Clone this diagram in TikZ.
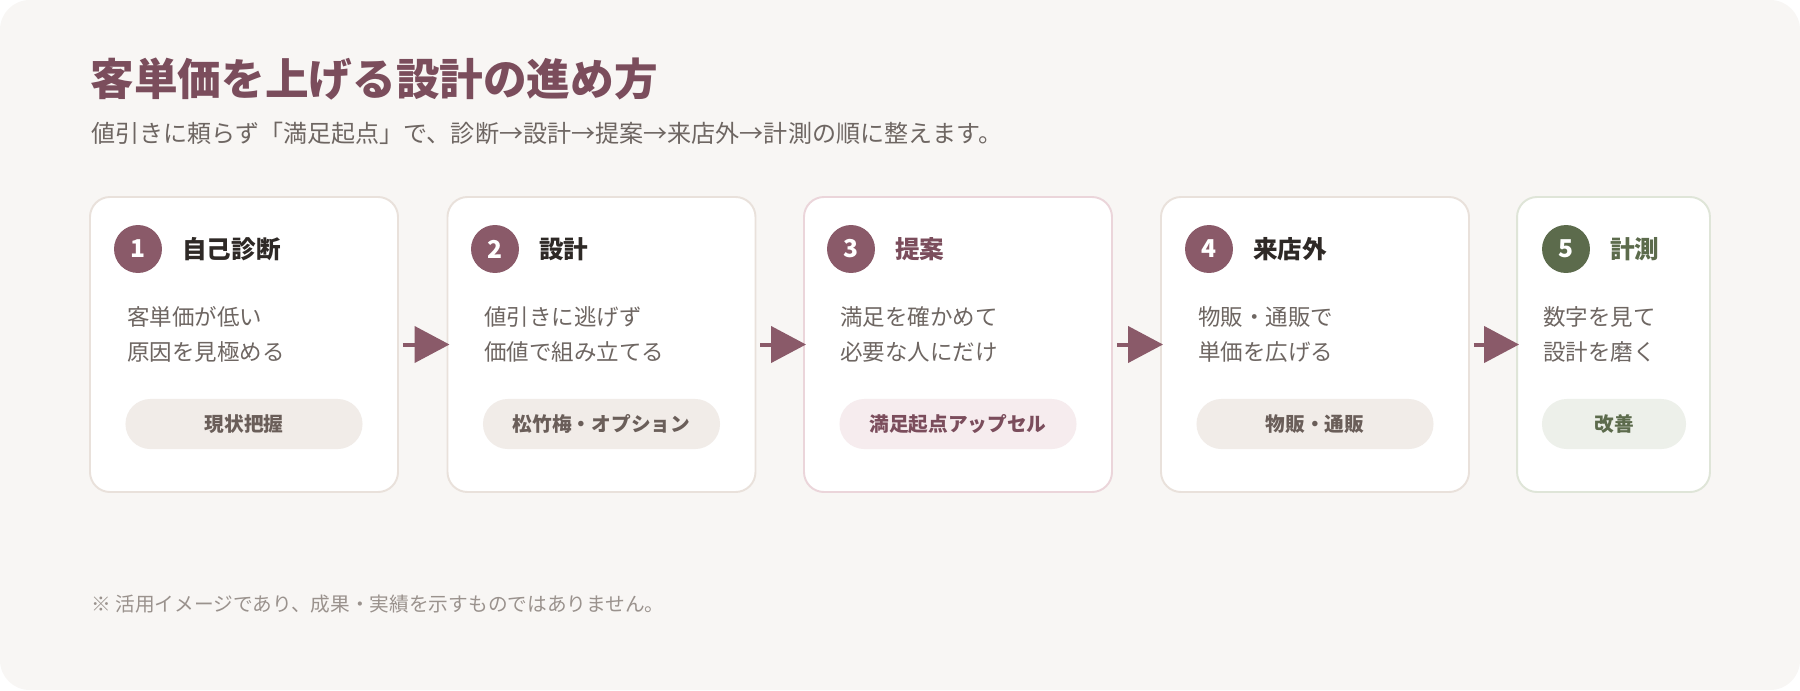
\documentclass[tikz,border=0pt]{standalone}
\usepackage{fontspec}
\setmainfont{Noto Sans CJK JP}
\usetikzlibrary{arrows.meta}
\definecolor{bgc}{HTML}{F8F6F4}
\definecolor{mauve}{HTML}{8A5A69}
\definecolor{mauvet}{HTML}{7B4D5C}
\definecolor{greenc}{HTML}{5C6B4C}
\definecolor{darkt}{HTML}{2E2926}
\definecolor{bodyt}{HTML}{6E6662}
\definecolor{bordb}{HTML}{E9E1DB}
\definecolor{bordp}{HTML}{EBD5DA}
\definecolor{bordg}{HTML}{DFE5D8}
\definecolor{pillb}{HTML}{F1ECE8}
\definecolor{pillp}{HTML}{F6ECEE}
\definecolor{pillg}{HTML}{EDF0EA}
\definecolor{pillt}{HTML}{6A5E59}
\definecolor{notet}{HTML}{9A928D}
\begin{document}
\begin{tikzpicture}[x=0.5691pt,y=-0.5691pt,
  card/.style={draw=bordb, fill=white, line width=1.1pt, rounded corners=11.4pt,
    minimum width=175.3pt, minimum height=167.9pt, inner sep=0pt},
  numc/.style={circle, fill=mauve, minimum size=27.3pt, inner sep=0pt, text=white,
    font=\fontsize{14pt}{16pt}\selectfont\bfseries},
  ctitle/.style={anchor=west, inner sep=0pt, text=darkt, font=\fontsize{14pt}{16pt}\selectfont\bfseries},
  bodyl/.style={anchor=west, inner sep=0pt, text=bodyt, font=\fontsize{12.8pt}{15pt}\selectfont},
  pill/.style={fill=pillb, rounded corners=14.2pt, minimum width=134.9pt, minimum height=28.5pt,
    inner sep=0pt, text=pillt, font=\fontsize{11.2pt}{13pt}\selectfont\bfseries},
  flow/.style={draw=mauve, line width=2.28pt, -{Triangle[length=19.9pt,width=20.5pt]}}
]
\useasboundingbox (0,0) rectangle (1800,690);
\fill[white] (0,0) rectangle (1800,690);
\fill[bgc, rounded corners=17pt] (0,0) rectangle (1800,690);

\node[anchor=west, inner sep=0pt, text=mauvet, font=\fontsize{24.85pt}{28pt}\selectfont\bfseries] (title) at (90,79) {客単価を上げる設計の進め方};
\node[anchor=west, inner sep=0pt, text=bodyt, font=\fontsize{13.7pt}{16pt}\selectfont] (sub) at (91,133) {値引きに頼らず「満足起点」で、診断→設計→提案→来店外→計測の順に整えます。};

% cards
\node[card] (c1) at (244,344.5) {};
\node[card] (c2) at (601.5,344.5) {};
\node[card, draw=bordp] (c3) at (958,344.5) {};
\node[card] (c4) at (1315,344.5) {};
\node[card, draw=bordg, minimum width=109.8pt] (c5) at (1613.5,344.5) {};

% card 1
\node[numc] (n1) at (138,249) {1};
\node[ctitle] (t1) at (182,249) {自己診断};
\node[bodyl] (b1a) at (127,317) {客単価が低い};
\node[bodyl] (b1b) at (127,352) {原因を見極める};
\node[pill] (p1) at (244,424) {現状把握};

% card 2
\node[numc] (n2) at (495,249) {2};
\node[ctitle] (t2) at (539,249) {設計};
\node[bodyl] (b2a) at (484,317) {値引きに逃げず};
\node[bodyl] (b2b) at (484,352) {価値で組み立てる};
\node[pill] (p2) at (601.5,424) {松竹梅・オプション};

% card 3
\node[numc] (n3) at (851,249) {3};
\node[ctitle, text=mauvet] (t3) at (895,249) {提案};
\node[bodyl] (b3a) at (840,317) {満足を確かめて};
\node[bodyl] (b3b) at (840,352) {必要な人にだけ};
\node[pill, fill=pillp, text=mauvet] (p3) at (958,424) {満足起点アップセル};

% card 4
\node[numc] (n4) at (1209,249) {4};
\node[ctitle] (t4) at (1253,249) {来店外};
\node[bodyl] (b4a) at (1198,317) {物販・通販で};
\node[bodyl] (b4b) at (1198,352) {単価を広げる};
\node[pill] (p4) at (1315,424) {物販・通販};

% card 5
\node[numc, fill=greenc] (n5) at (1566,249) {5};
\node[ctitle, text=greenc] (t5) at (1610,249) {計測};
\node[bodyl] (b5a) at (1543,317) {数字を見て};
\node[bodyl] (b5b) at (1543,352) {設計を磨く};
\node[pill, fill=pillg, text=greenc, minimum width=82pt] (p5) at (1614,424) {改善};

% arrows
\draw[flow] ([xshift=2.28pt]c1.east) -- ([xshift=1.71pt]c2.west);
\draw[flow] ([xshift=2.28pt]c2.east) -- ([xshift=1.71pt]c3.west);
\draw[flow] ([xshift=2.28pt]c3.east) -- ([xshift=1.71pt]c4.west);
\draw[flow] ([xshift=2.28pt]c4.east) -- ([xshift=1.71pt]c5.west);

\node[anchor=west, inner sep=0pt, text=notet, font=\fontsize{11.2pt}{13pt}\selectfont] (note) at (91,604) {※ 活用イメージであり、成果・実績を示すものではありません。};
\end{tikzpicture}
\end{document}
